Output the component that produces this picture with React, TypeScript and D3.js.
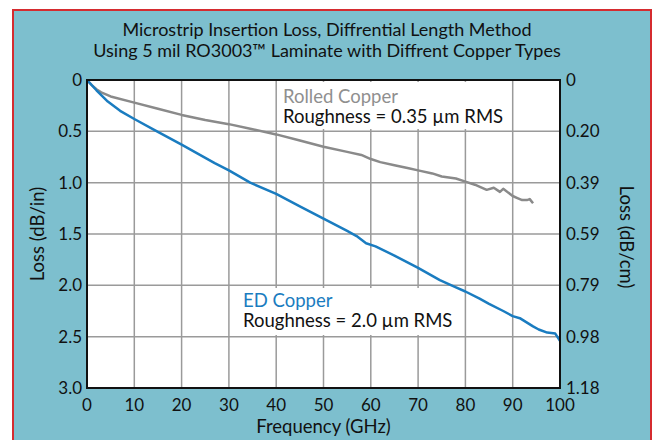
import React from 'react';
import * as d3 from 'd3';

const titleLines = [
  'Microstrip Insertion Loss, Diffrential Length Method',
  'Using 5 mil RO3003™ Laminate with Diffrent Copper Types',
];

const xTicks = [0, 10, 20, 30, 40, 50, 60, 70, 80, 90, 100];
const yTicks = [0, 0.5, 1.0, 1.5, 2.0, 2.5, 3.0];
const yRightLabels = ['0', '0.20', '0.39', '0.59', '0.79', '0.98', '1.18'];

// Rolled copper, dB/in vs GHz
const rolledFreq = [0, 1, 2, 3, 5, 10, 15, 20, 25, 30, 35, 40, 45, 50, 55, 58, 60, 62, 65, 68, 70, 73, 75, 78, 80, 82, 84.5, 86, 87.3, 88, 90, 91, 92, 93, 93.6, 94.3];
const rolledLoss = [0, 0.05, 0.09, 0.12, 0.16, 0.22, 0.28, 0.34, 0.39, 0.43, 0.48, 0.53, 0.59, 0.65, 0.7, 0.73, 0.77, 0.8, 0.83, 0.86, 0.88, 0.91, 0.94, 0.96, 0.99, 1.02, 1.07, 1.05, 1.09, 1.06, 1.13, 1.15, 1.17, 1.17, 1.16, 1.2];

// ED copper, dB/in vs GHz
const edFreq = [0, 2, 4.4, 7, 10, 14.4, 20, 27, 30, 34.5, 40, 45, 50, 55, 57, 59, 61, 65, 70, 74.6, 78, 80, 83, 85, 88, 90, 91.5, 94.3, 95.5, 97.3, 99, 100];
const edLoss = [0, 0.1, 0.21, 0.3, 0.38, 0.49, 0.63, 0.81, 0.88, 1.0, 1.11, 1.23, 1.35, 1.47, 1.52, 1.59, 1.62, 1.71, 1.83, 1.95, 2.02, 2.06, 2.13, 2.18, 2.25, 2.3, 2.32, 2.4, 2.43, 2.46, 2.47, 2.54];

const font = 'Lato, "Noto Sans", sans-serif';

export default function App() {
  const x = d3.scaleLinear().domain([0, 100]).range([87, 560]);
  const y = d3.scaleLinear().domain([0, 3]).range([80, 388]);

  const line = d3
    .line<[number, number]>()
    .x((d) => x(d[0]))
    .y((d) => y(d[1]));

  const rolled = rolledFreq.map((f, i) => [f, rolledLoss[i]] as [number, number]);
  const ed = edFreq.map((f, i) => [f, edLoss[i]] as [number, number]);

  const [x0, x1] = x.range();
  const [y0, y1] = y.range();
  const tickSize = 17;
  const labelSize = 18.5;

  return (
    <svg
      width={655}
      height={440}
      style={{ position: 'absolute', left: 0, top: 0, fontFamily: font }}
    >
      <rect x={0} y={0} width={655} height={440} fill="#ffffff" />
      <rect x={13} y={10} width={638} height={440} fill="#7dbfce" stroke="#d52b2f" strokeWidth={2} />

      {titleLines.map((t, i) => (
        <text key={i} x={327} y={36 + i * 20.5} textAnchor="middle" fontSize={18} fill="#111">
          {t}
        </text>
      ))}

      <rect x={x0} y={y0} width={x1 - x0} height={y1 - y0} fill="#ffffff" />

      {/* grid */}
      {xTicks.slice(1, -1).map((t) => (
        <line key={'gx' + t} x1={x(t)} x2={x(t)} y1={y0} y2={y1} stroke="#9a9a9a" strokeWidth={1.5} />
      ))}
      {yTicks.slice(1, -1).map((t) => (
        <line key={'gy' + t} x1={x0} x2={x1} y1={y(t)} y2={y(t)} stroke="#9a9a9a" strokeWidth={1.5} />
      ))}

      {/* label boxes */}
      <rect x={278} y={82} width={233} height={47} fill="#ffffff" />
      <rect x={232} y={288} width={232} height={47} fill="#ffffff" />

      <path d={line(rolled) ?? ''} fill="none" stroke="#8a8a8a" strokeWidth={2.5} strokeLinejoin="round" />
      <path d={line(ed) ?? ''} fill="none" stroke="#1a7cc0" strokeWidth={2.5} strokeLinejoin="round" />

      <rect x={x0} y={y0} width={x1 - x0} height={y1 - y0} fill="none" stroke="#111" strokeWidth={2} />

      {/* left axis */}
      {yTicks.map((t) => (
        <text key={'yl' + t} x={82} y={y(t)} dy="0.36em" textAnchor="end" fontSize={tickSize} fill="#111">
          {t === 0 ? '0' : t.toFixed(1)}
        </text>
      ))}
      {/* right axis */}
      {yTicks.map((t, i) => (
        <text key={'yr' + t} x={566} y={y(t)} dy="0.36em" textAnchor="start" fontSize={tickSize} fill="#111">
          {yRightLabels[i]}
        </text>
      ))}
      {/* x axis */}
      {xTicks.map((t) => (
        <text key={'xl' + t} x={x(t)} y={411} textAnchor="middle" fontSize={tickSize} fill="#111">
          {t}
        </text>
      ))}

      <text x={(x0 + x1) / 2} y={433} textAnchor="middle" fontSize={labelSize} fill="#111">
        Frequency (GHz)
      </text>
      <text transform="translate(37,234) rotate(-90)" dy="0.36em" textAnchor="middle" fontSize={labelSize} fill="#111">
        Loss (dB/in)
      </text>
      <text transform="translate(627,237) rotate(90)" dy="0.36em" textAnchor="middle" fontSize={labelSize} fill="#111">
        Loss (dB/cm)
      </text>

      <text x={283} y={103} fontSize={labelSize} fill="#8f8f8f">Rolled Copper</text>
      <text x={283} y={123} fontSize={labelSize} fill="#111">Roughness = 0.35 µm RMS</text>
      <text x={243} y={307} fontSize={labelSize} fill="#1a7cc0">ED Copper</text>
      <text x={243} y={327} fontSize={labelSize} fill="#111">Roughness = 2.0 µm RMS</text>
    </svg>
  );
}
